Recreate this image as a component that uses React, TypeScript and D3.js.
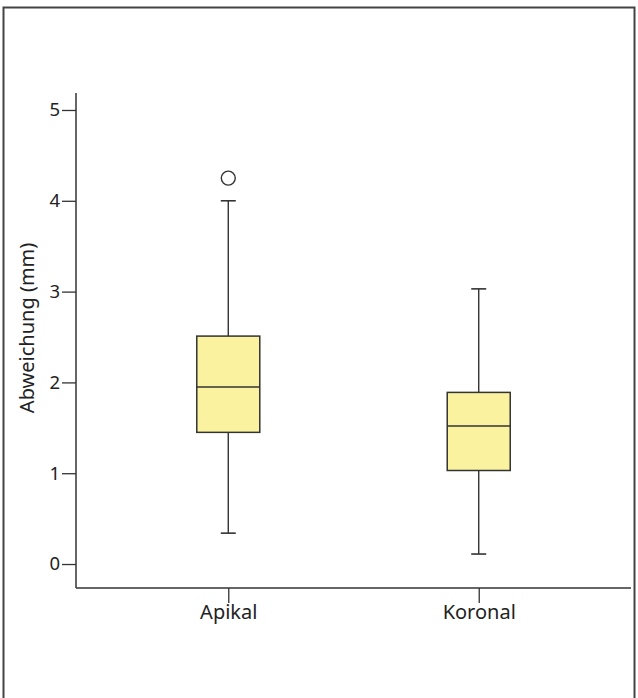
import { useRef, useEffect } from 'react';
import * as d3 from 'd3';

const categories = ['Apikal', 'Koronal'];
const whiskerLow = [0.34, 0.11];
const q1 = [1.45, 1.03];
const medians = [1.95, 1.52];
const q3 = [2.51, 1.89];
const whiskerHigh = [4.0, 3.03];
const outliers = [[4.25], []];
const yTicks = [0, 1, 2, 3, 4, 5];

const width = 638;
const height = 698;

const App = () => {
  const ref = useRef<SVGSVGElement>(null);

  useEffect(() => {
    const svg = d3.select(ref.current);
    svg.selectAll('*').remove();

    const x = d3.scalePoint<string>().domain(categories).range([76, 631]).padding(0.608);
    const y = d3.scaleLinear().domain([-0.264, 5.187]).range([588, 93]);
    const ink = '#333';
    const font = '"Noto Sans", "Open Sans", sans-serif';
    const fontSize = 20;

    // frame
    svg.append('rect')
      .attr('x', 3.5).attr('y', 7.5)
      .attr('width', 631).attr('height', 700)
      .attr('fill', 'none').attr('stroke', '#444').attr('stroke-width', 2);

    // y axis
    const yAxis = svg.append('g')
      .attr('transform', 'translate(76,0)')
      .call(d3.axisLeft(y).tickValues(yTicks).tickSize(14).tickPadding(2).tickFormat(d3.format('d')));
    yAxis.select('.domain').remove();
    yAxis.selectAll('line').attr('stroke', ink).attr('stroke-width', 1.3);
    yAxis.selectAll('text').attr('font-family', font).attr('font-size', 18.5).attr('fill', '#222');
    svg.append('line')
      .attr('x1', 76).attr('x2', 76).attr('y1', y(5.187)).attr('y2', 588)
      .attr('stroke', ink).attr('stroke-width', 1.5);

    // x axis
    const xAxis = svg.append('g')
      .attr('transform', 'translate(0,588)')
      .call(d3.axisBottom(x).tickSize(15).tickPadding(2));
    xAxis.select('.domain').remove();
    xAxis.selectAll('line').attr('stroke', ink).attr('stroke-width', 1.3);
    xAxis.selectAll('text').attr('font-family', font).attr('font-size', fontSize).attr('fill', '#222');
    svg.append('line')
      .attr('x1', 76).attr('x2', 631).attr('y1', 588).attr('y2', 588)
      .attr('stroke', ink).attr('stroke-width', 1.5);

    // y label
    svg.append('text')
      .attr('transform', `translate(34,${y(2.6)}) rotate(-90)`)
      .attr('text-anchor', 'middle')
      .attr('font-family', font).attr('font-size', fontSize).attr('fill', '#222')
      .text('Abweichung (mm)');

    const boxW = 63;
    const capW = 15;
    categories.forEach((c, i) => {
      const cx = x(c) as number;
      const g = svg.append('g');
      g.append('line')
        .attr('x1', cx).attr('x2', cx).attr('y1', y(whiskerHigh[i])).attr('y2', y(q3[i]))
        .attr('stroke', ink).attr('stroke-width', 1.4);
      g.append('line')
        .attr('x1', cx).attr('x2', cx).attr('y1', y(q1[i])).attr('y2', y(whiskerLow[i]))
        .attr('stroke', ink).attr('stroke-width', 1.4);
      [whiskerHigh[i], whiskerLow[i]].forEach(v => {
        g.append('line')
          .attr('x1', cx - capW / 2).attr('x2', cx + capW / 2).attr('y1', y(v)).attr('y2', y(v))
          .attr('stroke', ink).attr('stroke-width', 1.6);
      });
      g.append('rect')
        .attr('x', cx - boxW / 2).attr('y', y(q3[i]))
        .attr('width', boxW).attr('height', y(q1[i]) - y(q3[i]))
        .attr('fill', '#faf29e').attr('stroke', ink).attr('stroke-width', 1.5);
      g.append('line')
        .attr('x1', cx - boxW / 2).attr('x2', cx + boxW / 2).attr('y1', y(medians[i])).attr('y2', y(medians[i]))
        .attr('stroke', ink).attr('stroke-width', 1.5);
      outliers[i].forEach(v => {
        g.append('circle')
          .attr('cx', cx).attr('cy', y(v)).attr('r', 7)
          .attr('fill', 'white').attr('stroke', ink).attr('stroke-width', 1.4);
      });
    });
  }, []);

  return (
    <svg ref={ref} width={width} height={height}
      style={{ position: 'absolute', left: 0, top: 0, background: 'white' }} />
  );
};

export default App;
